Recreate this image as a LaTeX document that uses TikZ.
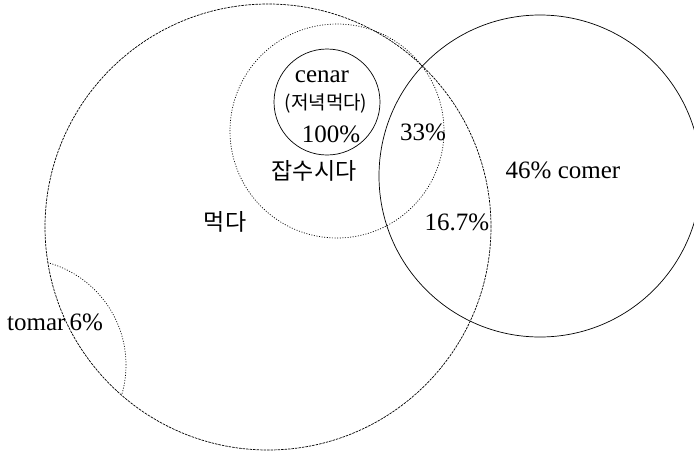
\documentclass[tikz,border=0pt]{standalone}
\usepackage{fontspec}
\setmainfont{Liberation Serif}
\newfontfamily\krfont{Noto Sans CJK KR}
\begin{document}
\begin{tikzpicture}[x=1pt,y=-1pt,
  ring/.style={draw, circle, inner sep=0pt, line width=0.7pt},
  fineline/.style={dash pattern=on 2.5pt off 1pt},
  dotline/.style={dash pattern=on 1pt off 1.6pt},
  lbl/.style={font=\fontsize{25}{29}\selectfont, inner sep=0pt, anchor=base},
  krl/.style={font=\krfont\fontsize{23}{27}\selectfont, inner sep=0pt},
  krs/.style={font=\krfont\fontsize{19}{23}\selectfont, inner sep=0pt}]
\useasboundingbox (0,0) rectangle (694,451);
\clip (0,0) rectangle (694,451);
% circles
\node[ring, fineline, minimum size=446pt] (meokda) at (268,227) {};
\node[ring, dotline, minimum size=214pt] (japsu) at (337,131) {};
\node[ring, minimum size=106pt] (cenarc) at (327,102) {};
\node[ring, minimum size=322pt] (comerc) at (540,176) {};
\begin{scope}
  \clip (meokda.center) circle (223pt);
  \node[ring, dotline, minimum size=212pt] (tomarc) at (20,365) {};
\end{scope}
% labels
\node[lbl] (cenar) at (322,82) {cenar};
\node[krs] (jeonyeok) at (326,103) {(저녁먹다)};
\node[lbl] (p100) at (331,142) {100\%};
\node[krl] (japsutxt) at (314,171) {잡수시다};
\node[krl] (meoktxt) at (225,222) {먹다};
\node[lbl] (p33) at (423,140) {33\%};
\node[lbl] (comer) at (563,178) {46\% comer};
\node[lbl] (p167) at (457,230) {16.7\%};
\node[lbl, anchor=base west] (tomar) at (7,330) {tomar\hspace{4pt}6\%};
\end{tikzpicture}
\end{document}
